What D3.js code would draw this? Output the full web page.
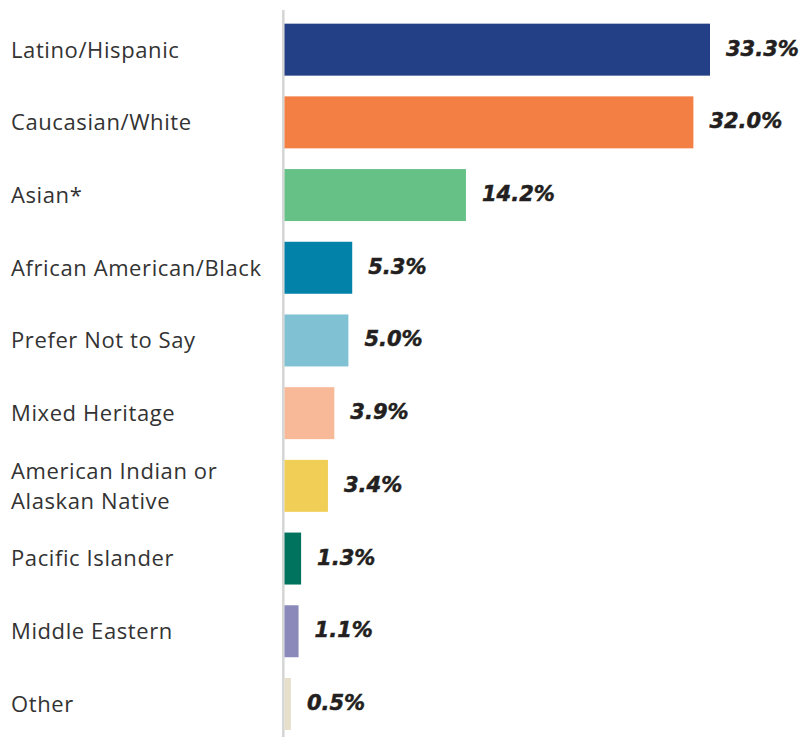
<!DOCTYPE html>
<html>
<head>
<meta charset="utf-8">
<script src="https://cdn.jsdelivr.net/npm/d3@7"></script>
<style>
  html, body { margin: 0; padding: 0; background: #ffffff; }
  svg { display: block; }
</style>
</head>
<body>
<svg id="chart" width="802" height="740"></svg>
<script>
// Share of respondents by race / ethnicity (percent)
const categories = [
  "Latino/Hispanic",
  "Caucasian/White",
  "Asian*",
  "African American/Black",
  "Prefer Not to Say",
  "Mixed Heritage",
  "American Indian or\nAlaskan Native",
  "Pacific Islander",
  "Middle Eastern",
  "Other"
];
const values = [33.3, 32.0, 14.2, 5.3, 5.0, 3.9, 3.4, 1.3, 1.1, 0.5];
const colors = [
  "#233f86", "#f47f45", "#66c186", "#0282a8", "#80c1d3",
  "#f8b999", "#f1cf57", "#00735f", "#8a89ba", "#e7dfca"
];

const width = 802, height = 740;
const x0 = 284.5;
const svg = d3.select("#chart");

const x = d3.scaleLinear().domain([0, 33.3]).range([x0, 710]);
const y = d3.scaleBand()
  .domain(categories)
  .range([13.3, 740.3])
  .paddingInner(0.285)
  .paddingOuter(0.1425);

// Baseline (vertical axis line)
svg.append("line")
  .attr("x1", x0 - 1.2).attr("x2", x0 - 1.2)
  .attr("y1", 10).attr("y2", 737)
  .attr("stroke", "#d5d6d6")
  .attr("stroke-width", 2.6);

const rows = categories.map((c, i) => ({ cat: c, value: values[i], color: colors[i] }));

// Bars
svg.selectAll("rect.bar")
  .data(rows)
  .join("rect")
  .attr("class", "bar")
  .attr("x", x0)
  .attr("y", d => y(d.cat))
  .attr("width", d => x(d.value) - x0)
  .attr("height", y.bandwidth())
  .attr("fill", d => d.color);

// Category labels (multi-line where the name contains a break)
const catFont = 22;
const lineGap = 30.5;
svg.selectAll("text.cat")
  .data(rows)
  .join("text")
  .attr("class", "cat")
  .attr("font-family", "'Open Sans', 'Noto Sans', sans-serif")
  .attr("font-size", catFont)
  .attr("letter-spacing", 0.6)
  .attr("fill", "#333333")
  .each(function (d) {
    const lines = d.cat.split("\n");
    const cy = y(d.cat) + y.bandwidth() / 2;
    const first = cy - (lines.length - 1) * lineGap / 2 + 0.36 * catFont;
    d3.select(this).selectAll("tspan")
      .data(lines)
      .join("tspan")
      .attr("x", 11)
      .attr("y", (l, k) => first + k * lineGap)
      .text(l => l);
  });

// Value labels
svg.selectAll("text.val")
  .data(rows)
  .join("text")
  .attr("class", "val")
  .attr("x", d => x(d.value) + 16)
  .attr("y", d => y(d.cat) + y.bandwidth() / 2 + 6)
  .attr("font-family", "'DejaVu Sans', sans-serif")
  .attr("font-weight", "bold")
  .attr("font-style", "italic")
  .attr("font-size", 21)
  .attr("fill", "#231f20")
  .attr("stroke", "#231f20")
  .attr("stroke-width", 0.5)
  .text(d => d.value.toFixed(1) + "%");
</script>
</body>
</html>
